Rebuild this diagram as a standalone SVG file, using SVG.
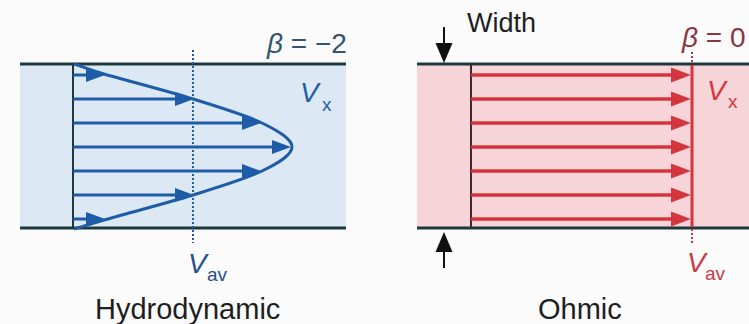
<svg xmlns="http://www.w3.org/2000/svg" width="749" height="324" viewBox="0 0 749 324">
<defs>
<style>
.wall{stroke:#1c3a3d;stroke-width:3;fill:none}
.base{stroke:#1c3a3d;stroke-width:2;fill:none}
.barr{stroke:#1f5ca8;stroke-width:3;fill:none;marker-end:url(#hb)}
.rarr{stroke:#d5353f;stroke-width:3.5;fill:none;marker-end:url(#hr)}
.karr{stroke:#111;stroke-width:2;fill:none;marker-end:url(#hk)}
.t{font-family:"Liberation Sans",Arial,sans-serif}
.i{font-style:italic}
</style>
<marker id="hb" markerUnits="userSpaceOnUse" markerWidth="19" markerHeight="14" refX="8" refY="7" orient="auto" overflow="visible"><path d="M0,0 L19,7 L0,14 z" fill="#1f5ca8"/></marker>
<marker id="hr" markerUnits="userSpaceOnUse" markerWidth="20" markerHeight="15" refX="9" refY="7.5" orient="auto" overflow="visible"><path d="M0,0 L20,7.5 L0,15 z" fill="#d5353f"/></marker>
<marker id="hk" markerUnits="userSpaceOnUse" markerWidth="20" markerHeight="17" refX="10" refY="8.5" orient="auto" overflow="visible"><path d="M0,0 L20,8.5 L0,17 z" fill="#111"/></marker>
</defs>
<rect width="749" height="324" fill="#fbfbfb"/>

<g id="hydrodynamic">
<rect x="20" y="64" width="326" height="164" fill="#dce8f4"/>
<line class="wall" x1="20" y1="64" x2="346" y2="64"/>
<line class="wall" x1="20" y1="228" x2="346" y2="228"/>
<line class="base" x1="73" y1="64" x2="73" y2="228"/>
<line x1="193" y1="50" x2="193" y2="243" stroke="#1f5ca8" stroke-width="2" stroke-dasharray="2,2"/>
<path d="M74,64 C79.8,65.7 84.3,68.2 104,74 C123.7,79.8 166.7,90.8 193,99 C219.3,107.2 245.5,115 262,123 C278.5,131 292,139 292,147 C292,155 278.5,163 262,171 C245.5,179 219.3,186.8 193,195 C166.7,203.2 123.7,214.2 104,220 C84.3,225.8 79.8,227.5 74,229" fill="none" stroke="#1f5ca8" stroke-width="3"/>
<line class="barr" x1="73" y1="75" x2="94" y2="75"/>
<line class="barr" x1="73" y1="99" x2="183" y2="99"/>
<line class="barr" x1="73" y1="123" x2="250" y2="123"/>
<line class="barr" x1="73" y1="147" x2="280" y2="147"/>
<line class="barr" x1="73" y1="171" x2="250" y2="171"/>
<line class="barr" x1="73" y1="195" x2="183" y2="195"/>
<line class="barr" x1="73" y1="219" x2="94" y2="219"/>
<text class="t" x="267" y="53" font-size="28" fill="#35526f"><tspan class="i">β</tspan> = −2</text>
<text class="t i" x="300" y="102" font-size="28" fill="#1f5ca8">V</text>
<text class="t" x="322" y="111" font-size="19" fill="#1f5ca8">x</text>
<text class="t i" x="188" y="273" font-size="28" fill="#26508a">V</text>
<text class="t" x="207" y="281" font-size="19" fill="#26508a">av</text>
<text class="t" x="95" y="319" font-size="29" fill="#1e1e1e">Hydrodynamic</text>
</g>

<g id="ohmic">
<rect x="417" y="64" width="332" height="164" fill="#f6d4d7"/>
<line class="wall" x1="417" y1="64" x2="749" y2="64"/>
<line class="wall" x1="417" y1="228" x2="749" y2="228"/>
<line x1="471" y1="64" x2="471" y2="228" stroke="#3a2a2e" stroke-width="2"/>
<line x1="692" y1="52" x2="692" y2="64" stroke="#b0384a" stroke-width="2" stroke-dasharray="2,2"/>
<line x1="692" y1="229" x2="692" y2="243" stroke="#d5353f" stroke-width="2" stroke-dasharray="2,2"/>
<line x1="692" y1="65" x2="692" y2="227" stroke="#d5353f" stroke-width="3"/>
<line class="rarr" x1="471" y1="75" x2="680" y2="75"/>
<line class="rarr" x1="471" y1="99" x2="680" y2="99"/>
<line class="rarr" x1="471" y1="123" x2="680" y2="123"/>
<line class="rarr" x1="471" y1="147" x2="680" y2="147"/>
<line class="rarr" x1="471" y1="171" x2="680" y2="171"/>
<line class="rarr" x1="471" y1="195" x2="680" y2="195"/>
<line class="rarr" x1="471" y1="219" x2="680" y2="219"/>
<text class="t" x="682" y="47" font-size="28" fill="#8c3343"><tspan class="i">β</tspan> = 0</text>
<text class="t i" x="707" y="100" font-size="28" fill="#d5353f">V</text>
<text class="t" x="728" y="108" font-size="19" fill="#d5353f">x</text>
<text class="t i" x="687" y="272" font-size="28" fill="#c93a45">V</text>
<text class="t" x="705" y="280" font-size="19" fill="#c93a45">av</text>
<text class="t" x="538" y="319" font-size="29" fill="#1e1e1e">Ohmic</text>
</g>

<g id="width">
<text class="t" x="467" y="32" font-size="27" fill="#1e1e1e">Width</text>
</g>

<g id="connectors">
<line class="karr" x1="444" y1="27" x2="444" y2="53"/>
<line class="karr" x1="444" y1="268" x2="444" y2="242"/>
</g>
</svg>
